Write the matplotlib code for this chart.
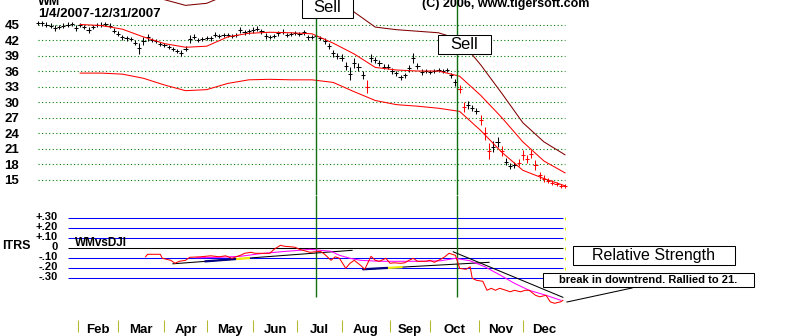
import matplotlib
matplotlib.use("Agg")
import numpy as np
import matplotlib.pyplot as plt
from matplotlib.patches import Rectangle

plt.rcParams['font.family'] = ['Liberation Sans', 'DejaVu Sans']

# ---------------- data ----------------
# trading-day index (0 = Jan 4 2007 ... 250 = Dec 31 2007), sampled every 2 days
bar_days = list(range(0, 251, 2))
closes = [
    45.3, 45.2, 45.0, 44.8, 44.3, 44.5, 44.8, 45.0, 45.1, 44.3,
    44.9, 44.6, 44.0, 44.5, 44.9, 45.0, 45.1, 44.8, 43.8, 43.2,
    42.5, 42.3, 42.2, 41.5, 40.4, 41.8, 42.5, 42.0, 41.8, 41.2,
    41.0, 40.6, 40.3, 39.8, 39.5, 40.3, 42.2, 42.6, 42.0, 42.2,
    42.4, 42.3, 43.0, 42.8, 43.0, 42.9, 42.7, 43.0, 43.9, 43.5,
    43.7, 44.0, 44.2, 43.7, 42.7, 42.6, 42.8, 43.3, 43.6, 43.0,
    43.2, 43.3, 43.2, 43.5, 42.5, 42.6, 42.8, 42.4, 41.8, 40.8,
    39.4, 38.9, 38.6, 37.0, 35.5, 37.5, 36.8, 35.2, 33.0, 38.5,
    38.1, 37.5, 36.8, 36.8, 36.0, 35.6, 34.8, 35.2, 36.5, 38.5,
    37.0, 35.8, 36.0, 35.8, 36.0, 36.2, 36.0, 36.2, 35.2, 33.8,
    32.5, 29.0, 29.4, 28.8, 28.2, 26.5, 24.0, 20.5, 21.4, 22.3,
    20.5, 18.5, 17.6, 17.8, 18.3, 19.8, 19.0, 20.0, 17.8, 15.8,
    15.2, 14.8, 14.4, 14.2, 13.7, 13.8,
]
bar_ranges = [
    0.8, 0.8, 0.8, 0.8, 1.2, 0.8, 0.8, 0.8, 0.8, 1.2,
    0.8, 0.8, 1.2, 0.8, 0.8, 0.8, 0.8, 0.8, 1.0, 1.0,
    1.0, 0.8, 0.8, 1.0, 2.2, 1.5, 1.2, 0.8, 0.8, 0.8,
    0.8, 0.8, 0.8, 0.8, 1.0, 1.0, 1.5, 1.0, 0.8, 0.8,
    0.8, 0.8, 1.0, 0.8, 0.8, 0.8, 0.8, 0.8, 1.2, 1.0,
    1.0, 1.2, 1.0, 1.0, 1.2, 0.8, 0.8, 1.0, 1.0, 0.8,
    0.8, 0.8, 0.8, 1.0, 1.0, 0.8, 0.8, 0.8, 1.0, 1.2,
    1.2, 1.0, 1.2, 1.5, 2.5, 2.0, 1.5, 1.5, 2.5, 1.5,
    1.2, 1.2, 1.0, 1.0, 1.0, 1.0, 1.0, 1.0, 1.2, 2.0,
    1.2, 1.0, 0.8, 0.8, 0.8, 0.8, 0.8, 0.8, 1.0, 1.2,
    1.5, 2.0, 1.5, 1.2, 1.2, 2.0, 2.5, 3.0, 2.0, 2.0,
    2.0, 1.5, 1.2, 1.2, 1.5, 2.0, 1.5, 1.5, 1.8, 1.5,
    1.2, 1.0, 1.0, 0.8, 0.8, 0.8,
]
red_bar_days = [156, 200, 202, 210, 212, 214, 220, 228, 230, 232, 234,
                236, 238, 240, 242, 244, 246, 248, 250]

band_days = list(range(20, 251, 10))
band_mid = [45.0, 44.8, 44.1, 42.6, 41.3, 40.6, 40.8, 42.6, 43.3, 43.5, 43.4, 43.2,
            41.4, 39.3, 36.7, 36.2, 36.0, 36.0, 35.0, 31.3, 27.0, 22.3, 18.6, 16.3]
band_low = [35.6, 35.6, 35.4, 34.6, 33.3, 32.2, 32.4, 33.6, 34.3, 34.4, 34.3, 34.3,
            33.8, 32.0, 30.3, 29.5, 29.2, 28.8, 28.2, 24.5, 20.3, 16.8, 15.2, 13.8]
band_up = [54.0, 53.6, 52.8, 51.6, 49.8, 48.7, 49.1, 50.8, 51.7, 52.0, 52.0, 51.7,
           51.0, 47.4, 44.5, 44.0, 43.7, 43.4, 42.1, 37.2, 31.7, 26.0, 22.3, 19.8]

price_ticks = [45, 42, 39, 36, 33, 30, 27, 24, 21, 18, 15]
sell_days = [132, 199]

rs_days = [51, 52, 56, 58, 59, 63, 65, 67, 70, 72, 77, 82, 86, 89, 92, 96, 98, 101, 103,
           106, 110, 112, 115, 117, 120, 122, 124, 129, 134, 136, 139, 141, 143, 146,
           148, 150, 153, 155, 158, 160, 162, 165, 167, 169, 172, 174, 176, 178, 180,
           184, 186, 188, 191, 193, 195, 198, 199, 200, 203, 205, 206, 208, 211, 213,
           215, 217, 219, 222, 224, 226, 229, 231, 233, 236, 238, 241, 243, 245, 248, 249]
rs_values = [-0.085, -0.06, -0.06, -0.06, -0.10, -0.12, -0.15, -0.13, -0.12, -0.09,
             -0.085, -0.075, -0.085, -0.075, -0.10, -0.07, -0.05, -0.04, -0.05, -0.05,
             -0.05, -0.01, 0.03, 0.02, 0.015, 0.01, -0.01, -0.04, -0.03, -0.06,
             -0.12, -0.085, -0.10, -0.20, -0.15, -0.12, -0.17, -0.21, -0.08, -0.12,
             -0.13, -0.10, -0.15, -0.145, -0.15, -0.145, -0.12, -0.10, -0.13, -0.13,
             -0.12, -0.14, -0.11, -0.085, -0.05, -0.07, -0.13, -0.20, -0.21, -0.185,
             -0.30, -0.32, -0.33, -0.42, -0.40, -0.42, -0.40, -0.42, -0.435, -0.42,
             -0.435, -0.42, -0.42, -0.47, -0.485, -0.47, -0.535, -0.55, -0.535, -0.52]
rs_ma_days = [75, 86, 96, 105, 115, 124, 129, 134, 139, 143, 148, 153, 162, 172, 181,
              191, 198, 205, 212, 219, 226, 233, 241, 248]
rs_ma_values = [-0.095, -0.09, -0.08, -0.055, -0.035, -0.02, -0.01, -0.02, -0.03,
                -0.07, -0.10, -0.12, -0.13, -0.13, -0.13, -0.125, -0.10, -0.125,
                -0.185, -0.265, -0.35, -0.42, -0.47, -0.52]
# trend lines: (start day, start value, end day, end value)
trend_lines = [(64, -0.155, 149, -0.02), (154, -0.21, 214, -0.14), (197, -0.035, 249, -0.49)]
# coloured stretches on trend lines: (line index, from day, to day, colour)
trend_marks = [(0, 79, 94, '#000080'), (0, 94, 100.5, '#f0f000'),
               (1, 154, 166, '#000080'), (1, 166, 173, '#f0f000')]
rs_levels = [0.30, 0.20, 0.10, 0.0, -0.10, -0.20, -0.30]
rs_labels = ['+.30', '+.20', '+.10', '0', '-.10', '-.20', '-.30']

month_starts = [19, 38, 60, 80, 102, 123, 144, 167, 186, 209, 230, 250]
month_names = ['Feb', 'Mar', 'Apr', 'May', 'Jun', 'Jul', 'Aug', 'Sep', 'Oct', 'Nov', 'Dec']

# ---------------- figure ----------------
W, H = 800, 336
fig = plt.figure(figsize=(W / 100, H / 100), dpi=100)
fig.patch.set_facecolor('white')


def px_axes(x0, y0, x1, y1):
    return fig.add_axes([x0 / W, 1 - y1 / H, (x1 - x0) / W, (y1 - y0) / H])


PXD = 527 / 250.0  # pixels per trading day
X0 = 38 - 2 * PXD
X1 = 565 + 2 * PXD
LW = 0.75
GREEN = '#107010'

# ---- price panel
ax_p = px_axes(X0, 0, X1, 195)
ax_p.set_xlim(-2, 252)
ax_p.set_ylim(12.02, 49.74)
for s in ax_p.spines.values():
    s.set_visible(False)
ax_p.set_xticks([])
ax_p.set_yticks(price_ticks)
ax_p.set_yticklabels([str(v) for v in price_ticks], fontweight='bold', fontsize=9.5)
ax_p.tick_params(axis='y', length=0, pad=10.5)
ax_p.patch.set_alpha(0)

ax_p.hlines(price_ticks, 0, 250, colors='#008000', linewidth=0.8,
            linestyles=(0, (1, 2.2)))

for d, c, r in zip(bar_days, closes, bar_ranges):
    col = '#ff0000' if d in red_bar_days else '#000000'
    ax_p.vlines(d, c - r / 2, c + r / 2, colors=col, linewidth=LW)
    ax_p.hlines(c, d - 1.0, d + 1.0, colors=col, linewidth=LW)

ax_p.plot(band_days, band_mid, color='#ff0000', linewidth=LW)
ax_p.plot(band_days, band_low, color='#ff0000', linewidth=LW)
ax_p.plot(band_days, band_up, color='#800000', linewidth=LW)

for d in sell_days:
    ax_p.axvline(d, color=GREEN, linewidth=1.0, snap=True)

# ---- relative strength panel
ax_r = px_axes(X0, 195, X1, 336)
ax_r.set_xlim(-2, 252)
ax_r.set_ylim(-0.877, 0.533)
for s in ax_r.spines.values():
    s.set_visible(False)
ax_r.patch.set_alpha(0)
ax_r.set_xticks([])
ax_r.set_yticks([v + 0.025 for v in rs_levels])
ax_r.set_yticklabels(rs_labels, fontweight='bold', fontsize=8)
ax_r.tick_params(axis='y', length=0, pad=-17.5)

for v in rs_levels:
    ax_r.hlines(v, 14, 249, colors='#000000' if v == 0 else '#0000ff', linewidth=LW)
    ax_r.vlines(249.8, v - 0.012, v + 0.012, colors='#e8e800', linewidth=LW)

for d in sell_days:
    ax_r.vlines(d, -0.487, 0.533, colors=GREEN, linewidth=1.0, snap=True)

for (d0, v0, d1, v1) in trend_lines:
    ax_r.plot([d0, d1], [v0, v1], color='#000000', linewidth=LW)
for (i, a, b, col) in trend_marks:
    d0, v0, d1, v1 = trend_lines[i]
    ya = np.interp(a, [d0, d1], [v0, v1])
    yb = np.interp(b, [d0, d1], [v0, v1])
    ax_r.plot([a, b], [ya, yb], color=col, linewidth=1.6, solid_capstyle='butt')

ax_r.plot(rs_ma_days, rs_ma_values, color='#ff00ff', linewidth=LW)
ax_r.plot(rs_days, rs_values, color='#ff0000', linewidth=LW)

ax_r.vlines(month_starts[:-1], -0.837, -0.717, colors='#b8b830', linewidth=LW)
for i, name in enumerate(month_names):
    mid = (month_starts[i] + month_starts[i + 1]) / 2
    ax_r.text(mid, -0.847, name, ha='center', va='baseline',
              fontsize=9.5, fontweight='bold')

# ---- overlay for titles and boxes (pixel coordinates)
ax_o = fig.add_axes([0, 0, 1, 1])
ax_o.set_xlim(0, W)
ax_o.set_ylim(H, 0)
ax_o.axis('off')

ax_o.text(38, 5, 'WM', fontsize=9, fontweight='bold', va='baseline')
ax_o.text(38, 17, '1/4/2007-12/31/2007', fontsize=9.5, fontweight='bold', va='baseline')
ax_o.text(422, 7.5, '(C) 2006, www.tigersoft.com', fontsize=9, fontweight='bold', va='baseline')
ax_o.text(2, 246, 'ITRS', fontsize=9, fontweight='bold', va='center')
ax_o.text(75, 242.5, 'WMvsDJI', fontsize=8.5, fontweight='bold', va='center')


def box(x, y, w, h, text, **kw):
    ax_o.add_patch(Rectangle((x, y), w, h, facecolor='white', edgecolor='black',
                             linewidth=LW))
    ax_o.text(x + w / 2, y + h / 2, text, ha='center', va='center', **kw)


box(302, -2, 51, 20, 'Sell', fontsize=12)
box(438, 35, 53, 19, 'Sell', fontsize=12)
box(573, 246, 162, 19, 'Relative Strength', fontsize=11.5)
box(543, 273, 211, 14, 'break in downtrend. Rallied to 21.', fontsize=8, fontweight='bold')
ax_o.plot([567, 632], [302, 288], color='black', linewidth=LW)

fig.savefig('out.png', dpi=100, facecolor='white')
